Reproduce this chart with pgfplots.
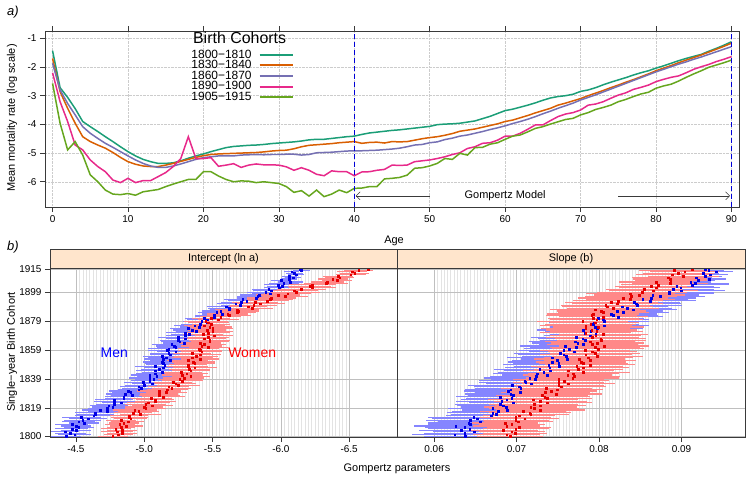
\documentclass[border=0pt]{standalone}
\usepackage{fontspec}
\setmainfont{Liberation Sans}
\usepackage{pgfplots}
\pgfplotsset{compat=1.18}
\usepackage{pgfplotstable}
\usetikzlibrary{arrows.meta}

\definecolor{cA}{HTML}{1B9E77}
\definecolor{cB}{HTML}{D95F02}
\definecolor{cC}{HTML}{7570B3}
\definecolor{cD}{HTML}{E7298A}
\definecolor{cE}{HTML}{66A61E}
\definecolor{stripcol}{HTML}{FFE5CC}
\definecolor{framecol}{HTML}{3A3A3A}
\definecolor{barblue}{HTML}{8585FF}
\definecolor{barred}{HTML}{FF8888}

% year, intercept (men, women), slope (men, women), each with half-width of the bar
\pgfplotstableread{
year ma mae fa fae mb mbe fb fbe
1800 -4.43 0.11 -4.77 0.11 0.0638 0.0050 0.0692 0.0040
1801 -4.49 0.12 -4.81 0.105 0.0625 0.0052 0.0688 0.0041
1802 -4.46 0.11 -4.84 0.11 0.0637 0.0049 0.0698 0.0039
1803 -4.42 0.105 -4.80 0.12 0.0649 0.0050 0.0694 0.0040
1804 -4.50 0.11 -4.84 0.11 0.0633 0.0051 0.0684 0.0042
1805 -4.47 0.12 -4.79 0.11 0.0643 0.0050 0.0699 0.0040
1806 -4.52 0.11 -4.83 0.105 0.0637 0.0048 0.0703 0.0039
1807 -4.50 0.11 -4.87 0.12 0.0626 0.0050 0.0688 0.0041
1808 -4.47 0.12 -4.82 0.11 0.0644 0.0052 0.0694 0.0040
1809 -4.56 0.11 -4.85 0.11 0.0642 0.0050 0.0686 0.0040
1810 -4.52 0.12 -4.88 0.12 0.0656 0.0051 0.0702 0.0042
1811 -4.55 0.135 -4.83 0.11 0.0644 0.0054 0.0699 0.0040
1812 -4.59 0.14 -4.90 0.12 0.0652 0.0055 0.0710 0.0041
1813 -4.54 0.14 -4.89 0.135 0.0648 0.0056 0.0699 0.0043
1814 -4.63 0.135 -4.89 0.14 0.0669 0.0055 0.0703 0.0044
1815 -4.64 0.14 -4.97 0.15 0.0675 0.0054 0.0717 0.0046
1816 -4.64 0.15 -4.92 0.14 0.0671 0.0055 0.0716 0.0050
1817 -4.73 0.14 -4.96 0.15 0.0678 0.0056 0.0708 0.0052
1818 -4.68 0.135 -4.93 0.16 0.0689 0.0055 0.0729 0.0054
1819 -4.73 0.14 -5.01 0.15 0.0671 0.0054 0.0721 0.0055
1820 -4.77 0.15 -5.00 0.14 0.0687 0.0055 0.0717 0.0056
1821 -4.74 0.14 -5.06 0.15 0.0684 0.0056 0.0729 0.0055
1822 -4.78 0.135 -5.01 0.15 0.0680 0.0055 0.0721 0.0054
1823 -4.83 0.14 -5.03 0.16 0.0696 0.0054 0.0737 0.0055
1824 -4.78 0.15 -5.08 0.15 0.0682 0.0055 0.0729 0.0056
1825 -4.78 0.14 -5.08 0.14 0.0688 0.0056 0.0720 0.0055
1826 -4.85 0.135 -5.05 0.15 0.0694 0.0055 0.0737 0.0054
1827 -4.85 0.14 -5.14 0.16 0.0680 0.0054 0.0734 0.0055
1828 -4.91 0.15 -5.11 0.15 0.0696 0.0055 0.0731 0.0056
1829 -4.86 0.14 -5.11 0.14 0.0693 0.0056 0.0748 0.0055
1830 -4.90 0.135 -5.16 0.15 0.0704 0.0055 0.0735 0.0054
1831 -4.88 0.14 -5.11 0.16 0.0690 0.0054 0.0742 0.0055
1832 -4.96 0.15 -5.17 0.15 0.0693 0.0055 0.0749 0.0056
1833 -4.98 0.14 -5.20 0.14 0.0705 0.0056 0.0736 0.0055
1834 -4.96 0.135 -5.18 0.15 0.0703 0.0055 0.0754 0.0054
1835 -5.00 0.14 -5.25 0.16 0.0695 0.0054 0.0751 0.0055
1836 -5.06 0.15 -5.23 0.15 0.0718 0.0055 0.0763 0.0056
1837 -4.99 0.14 -5.21 0.14 0.0711 0.0056 0.0751 0.0055
1838 -5.04 0.135 -5.28 0.15 0.0710 0.0055 0.0758 0.0054
1839 -5.07 0.14 -5.26 0.16 0.0723 0.0054 0.0751 0.0055
1840 -5.04 0.15 -5.29 0.15 0.0716 0.0055 0.0768 0.0056
1841 -5.09 0.14 -5.34 0.14 0.0724 0.0056 0.0770 0.0055
1842 -5.04 0.135 -5.28 0.15 0.0737 0.0055 0.0762 0.0054
1843 -5.08 0.14 -5.31 0.16 0.0725 0.0054 0.0769 0.0055
1844 -5.13 0.15 -5.27 0.15 0.0733 0.0055 0.0781 0.0056
1845 -5.08 0.14 -5.34 0.14 0.0741 0.0056 0.0763 0.0055
1846 -5.11 0.135 -5.33 0.15 0.0728 0.0055 0.0775 0.0054
1847 -5.14 0.14 -5.37 0.16 0.0740 0.0054 0.0781 0.0055
1848 -5.08 0.15 -5.32 0.15 0.0752 0.0055 0.0773 0.0056
1849 -5.15 0.14 -5.32 0.14 0.0739 0.0056 0.0789 0.0055
1850 -5.14 0.135 -5.37 0.15 0.0751 0.0055 0.0781 0.0054
1851 -5.13 0.14 -5.36 0.16 0.0743 0.0054 0.0778 0.0055
1852 -5.19 0.15 -5.32 0.15 0.0749 0.0055 0.0789 0.0056
1853 -5.14 0.14 -5.41 0.14 0.0761 0.0056 0.0776 0.0055
1854 -5.16 0.135 -5.35 0.15 0.0743 0.0055 0.0787 0.0054
1855 -5.13 0.14 -5.38 0.16 0.0760 0.0054 0.0798 0.0055
1856 -5.19 0.15 -5.41 0.15 0.0757 0.0055 0.0784 0.0056
1857 -5.18 0.14 -5.35 0.14 0.0753 0.0056 0.0795 0.0055
1858 -5.23 0.135 -5.42 0.15 0.0770 0.0055 0.0792 0.0054
1859 -5.17 0.14 -5.41 0.16 0.0757 0.0054 0.0783 0.0055
1860 -5.18 0.15 -5.40 0.15 0.0764 0.0055 0.0799 0.0056
1861 -5.23 0.14 -5.47 0.14 0.0772 0.0056 0.0795 0.0055
1862 -5.22 0.135 -5.42 0.15 0.0759 0.0055 0.0806 0.0054
1863 -5.20 0.14 -5.44 0.16 0.0781 0.0054 0.0792 0.0055
1864 -5.29 0.15 -5.41 0.15 0.0774 0.0055 0.0798 0.0056
1865 -5.26 0.14 -5.48 0.14 0.0771 0.0056 0.0789 0.0055
1866 -5.25 0.135 -5.48 0.15 0.0783 0.0055 0.0803 0.0054
1867 -5.30 0.14 -5.44 0.16 0.0780 0.0054 0.0802 0.0055
1868 -5.25 0.15 -5.47 0.15 0.0772 0.0055 0.0792 0.0056
1869 -5.30 0.14 -5.51 0.14 0.0789 0.0056 0.0796 0.0055
1870 -5.33 0.135 -5.43 0.15 0.0796 0.0055 0.0805 0.0054
1871 -5.30 0.14 -5.47 0.16 0.0783 0.0054 0.0784 0.0055
1872 -5.38 0.15 -5.50 0.15 0.0790 0.0055 0.0797 0.0056
1873 -5.35 0.14 -5.46 0.14 0.0781 0.0056 0.0791 0.0055
1874 -5.32 0.135 -5.50 0.15 0.0798 0.0055 0.0784 0.0054
1875 -5.40 0.14 -5.48 0.16 0.0795 0.0054 0.0799 0.0055
1876 -5.37 0.15 -5.44 0.15 0.0806 0.0055 0.0784 0.0056
1877 -5.41 0.14 -5.49 0.14 0.0793 0.0056 0.0790 0.0055
1878 -5.46 0.135 -5.47 0.15 0.0794 0.0055 0.0795 0.0054
1879 -5.42 0.14 -5.45 0.16 0.0806 0.0054 0.0780 0.0055
1880 -5.46 0.15 -5.54 0.15 0.0805 0.0055 0.0797 0.0056
1881 -5.44 0.14 -5.49 0.14 0.0799 0.0056 0.0793 0.0055
1882 -5.51 0.135 -5.56 0.15 0.0823 0.0055 0.0805 0.0054
1883 -5.51 0.14 -5.62 0.16 0.0817 0.0054 0.0791 0.0055
1884 -5.57 0.15 -5.61 0.15 0.0815 0.0055 0.0793 0.0056
1885 -5.53 0.14 -5.68 0.14 0.0829 0.0056 0.0805 0.0055
1886 -5.56 0.135 -5.69 0.15 0.0822 0.0055 0.0803 0.0054
1887 -5.62 0.14 -5.68 0.16 0.0841 0.0054 0.0795 0.0055
1888 -5.62 0.15 -5.79 0.15 0.0834 0.0055 0.0817 0.0056
1889 -5.60 0.14 -5.76 0.14 0.0828 0.0056 0.0810 0.0055
1890 -5.70 0.135 -5.80 0.17 0.0846 0.0055 0.0808 0.0054
1891 -5.67 0.14 -5.85 0.18 0.0845 0.0054 0.0822 0.0055
1892 -5.71 0.15 -5.81 0.17 0.0843 0.0055 0.0815 0.0056
1893 -5.75 0.14 -5.90 0.16 0.0862 0.0056 0.0823 0.0055
1894 -5.72 0.135 -5.92 0.17 0.0853 0.0055 0.0838 0.0054
1895 -5.82 0.14 -5.93 0.18 0.0863 0.0054 0.0829 0.0055
1896 -5.83 0.15 -6.03 0.17 0.0874 0.0055 0.0839 0.0056
1897 -5.84 0.14 -5.98 0.16 0.0865 0.0056 0.0849 0.0055
1898 -5.92 0.135 -6.05 0.17 0.0885 0.0055 0.0838 0.0054
1899 -5.89 0.14 -6.11 0.18 0.0885 0.0054 0.0852 0.0055
1900 -5.93 0.135 -6.10 0.17 0.0900 0.0053 0.0866 0.0054
1901 -5.91 0.12 -6.15 0.18 0.0890 0.0050 0.0855 0.0046
1902 -5.99 0.11 -6.23 0.17 0.0899 0.0048 0.0869 0.0045
1903 -6.01 0.11 -6.21 0.16 0.0894 0.0046 0.0863 0.0044
1904 -5.98 0.105 -6.23 0.17 0.0913 0.0044 0.0872 0.0045
1905 -6.02 0.11 -6.33 0.16 0.0917 0.0040 0.0886 0.0046
1906 -6.07 0.09 -6.34 0.12 0.0911 0.0025 0.0869 0.0045
1907 -6.00 0.07 -6.41 0.11 0.0920 0.0021 0.0887 0.0044
1908 -6.06 0.06 -6.38 0.11 0.0934 0.0020 0.0886 0.0045
1909 -6.09 0.06 -6.43 0.105 0.0918 0.0019 0.0884 0.0044
1910 -6.06 0.055 -6.42 0.11 0.0929 0.0020 0.0902 0.0043
1911 -6.11 0.06 -6.51 0.11 0.0935 0.0021 0.0889 0.0044
1912 -6.10 0.06 -6.54 0.105 0.0926 0.0019 0.0896 0.0043
1913 -6.08 0.055 -6.52 0.11 0.0942 0.0020 0.0904 0.0042
1914 -6.15 0.06 -6.57 0.105 0.0933 0.0019 0.0891 0.0043
1915 -6.14 0.055 -6.64 0.105 0.0929 0.0018 0.0913 0.0042
}\cohorts

\pgfplotsset{
  every axis/.append style={
    scale only axis, anchor=north west,
    axis line style={draw=framecol, line width=0.7pt},
    tick style={draw=framecol, line width=0.6pt},
    tick align=outside, major tick length=5bp, minor tick length=0pt,
    ticklabel style={font=\fontsize{10}{12}\selectfont, text=black},
    /pgf/number format/assume math mode=true,
  },
}

\begin{document}
\begin{tikzpicture}
\path (0bp,0bp) rectangle (750bp,-480bp);

% ---------- panel a ----------
\begin{axis}[
  at={(45bp,-31bp)}, width=694bp, height=176bp,
  xmin=-1, xmax=91, ymin=-6.88, ymax=-0.745,
  xtick={0,10,...,90}, ytick={-6,-5,-4,-3,-2,-1},
  xtick pos=both, xticklabel pos=lower, ytick pos=left,
  grid=major, major grid style={densely dotted, gray!40, line width=0.5pt},
  legend style={at={(0.205,0.912)}, anchor=north west, draw=none, fill=none,
    font=\fontsize{12}{12}\selectfont, row sep=-1.2pt, nodes={inner sep=1pt},
    /tikz/every odd column/.append style={column sep=6bp}},
  legend plot pos=right, legend cell align=left,
  legend image code/.code={\draw[#1, line width=2pt] (0bp,0bp) -- (33bp,0bp);},
]
\addplot[cA, line width=1.5pt] coordinates {
(0,-1.43)(1,-2.72)(2,-3.06)(3,-3.45)(4,-3.90)(5,-4.08)(6,-4.25)(7,-4.43)(8,-4.60)(9,-4.78)(10,-4.95)(11,-5.10)(12,-5.22)(13,-5.30)(14,-5.36)(15,-5.36)(16,-5.34)(17,-5.27)(18,-5.18)(19,-5.10)(20,-5.03)(21,-4.95)(22,-4.88)(23,-4.81)(24,-4.77)(25,-4.75)(26,-4.73)(27,-4.72)(28,-4.70)(29,-4.67)(30,-4.65)(31,-4.63)(32,-4.61)(33,-4.58)(34,-4.54)(35,-4.52)(36,-4.52)(37,-4.49)(38,-4.46)(39,-4.43)(40,-4.41)(41,-4.35)(42,-4.30)(43,-4.27)(44,-4.24)(45,-4.21)(46,-4.19)(47,-4.16)(48,-4.13)(49,-4.10)(50,-4.07)(51,-4.01)(52,-3.99)(53,-3.98)(54,-3.96)(55,-3.92)(56,-3.88)(57,-3.80)(58,-3.72)(59,-3.62)(60,-3.52)(61,-3.47)(62,-3.40)(63,-3.33)(64,-3.25)(65,-3.16)(66,-3.08)(67,-3.03)(68,-3.00)(69,-2.95)(70,-2.85)(71,-2.80)(72,-2.72)(73,-2.62)(74,-2.53)(75,-2.45)(76,-2.37)(77,-2.28)(78,-2.20)(79,-2.13)(80,-2.04)(81,-1.96)(82,-1.87)(83,-1.78)(84,-1.70)(85,-1.63)(86,-1.56)(87,-1.45)(88,-1.35)(89,-1.24)(90,-1.12)
};
\addlegendentry{1800−1810}
\addplot[cB, line width=1.5pt] coordinates {
(0,-1.70)(1,-2.86)(2,-3.44)(3,-3.96)(4,-4.43)(5,-4.60)(6,-4.72)(7,-4.83)(8,-4.98)(9,-5.15)(10,-5.30)(11,-5.39)(12,-5.45)(13,-5.47)(14,-5.47)(15,-5.42)(16,-5.36)(17,-5.29)(18,-5.22)(19,-5.15)(20,-5.09)(21,-5.05)(22,-5.03)(23,-5.02)(24,-5.01)(25,-5.00)(26,-4.99)(27,-4.98)(28,-4.96)(29,-4.93)(30,-4.91)(31,-4.90)(32,-4.85)(33,-4.78)(34,-4.73)(35,-4.71)(36,-4.69)(37,-4.67)(38,-4.64)(39,-4.62)(40,-4.60)(41,-4.66)(42,-4.63)(43,-4.62)(44,-4.65)(45,-4.60)(46,-4.61)(47,-4.60)(48,-4.55)(49,-4.50)(50,-4.46)(51,-4.43)(52,-4.38)(53,-4.32)(54,-4.24)(55,-4.20)(56,-4.16)(57,-4.10)(58,-4.04)(59,-3.98)(60,-3.90)(61,-3.85)(62,-3.77)(63,-3.69)(64,-3.60)(65,-3.52)(66,-3.44)(67,-3.33)(68,-3.26)(69,-3.18)(70,-3.10)(71,-3.00)(72,-2.91)(73,-2.82)(74,-2.72)(75,-2.63)(76,-2.53)(77,-2.44)(78,-2.34)(79,-2.24)(80,-2.13)(81,-2.04)(82,-1.95)(83,-1.85)(84,-1.76)(85,-1.67)(86,-1.58)(87,-1.48)(88,-1.38)(89,-1.28)(90,-1.17)
};
\addlegendentry{1830−1840}
\addplot[cC, line width=1.5pt] coordinates {
(0,-1.87)(1,-2.80)(2,-3.27)(3,-3.67)(4,-4.08)(5,-4.31)(6,-4.49)(7,-4.66)(8,-4.80)(9,-4.95)(10,-5.10)(11,-5.24)(12,-5.36)(13,-5.45)(14,-5.50)(15,-5.50)(16,-5.45)(17,-5.38)(18,-5.30)(19,-5.22)(20,-5.16)(21,-5.13)(22,-5.10)(23,-5.10)(24,-5.10)(25,-5.07)(26,-5.06)(27,-5.05)(28,-5.06)(29,-5.05)(30,-5.05)(31,-5.04)(32,-5.04)(33,-5.07)(34,-5.05)(35,-4.99)(36,-4.98)(37,-4.97)(38,-4.95)(39,-4.93)(40,-4.92)(41,-4.92)(42,-4.91)(43,-4.90)(44,-4.88)(45,-4.86)(46,-4.83)(47,-4.78)(48,-4.72)(49,-4.70)(50,-4.64)(51,-4.61)(52,-4.53)(53,-4.48)(54,-4.41)(55,-4.37)(56,-4.31)(57,-4.25)(58,-4.18)(59,-4.12)(60,-4.05)(61,-3.97)(62,-3.90)(63,-3.82)(64,-3.73)(65,-3.63)(66,-3.54)(67,-3.44)(68,-3.35)(69,-3.26)(70,-3.15)(71,-3.06)(72,-2.97)(73,-2.87)(74,-2.77)(75,-2.67)(76,-2.57)(77,-2.47)(78,-2.37)(79,-2.27)(80,-2.17)(81,-2.08)(82,-1.99)(83,-1.90)(84,-1.82)(85,-1.73)(86,-1.65)(87,-1.56)(88,-1.47)(89,-1.38)(90,-1.29)
};
\addlegendentry{1860−1870}
\addplot[cD, line width=1.5pt] coordinates {
(0,-2.20)(1,-3.21)(2,-3.90)(3,-4.72)(4,-4.89)(5,-5.24)(6,-5.47)(7,-5.65)(8,-5.94)(9,-6.03)(10,-5.88)(11,-6.03)(12,-5.96)(13,-5.96)(14,-5.82)(15,-5.68)(16,-5.47)(17,-5.19)(18,-4.43)(19,-5.19)(20,-5.19)(21,-5.16)(22,-5.46)(23,-5.42)(24,-5.37)(25,-5.50)(26,-5.42)(27,-5.38)(28,-5.41)(29,-5.41)(30,-5.42)(31,-5.48)(32,-5.60)(33,-5.51)(34,-5.60)(35,-5.74)(36,-5.79)(37,-5.62)(38,-5.65)(39,-5.65)(40,-5.79)(41,-5.66)(42,-5.65)(43,-5.60)(44,-5.57)(45,-5.42)(46,-5.43)(47,-5.42)(48,-5.30)(49,-5.27)(50,-5.24)(51,-5.19)(52,-5.13)(53,-5.05)(54,-4.99)(55,-4.84)(56,-4.78)(57,-4.66)(58,-4.64)(59,-4.55)(60,-4.41)(61,-4.41)(62,-4.31)(63,-4.17)(64,-4.02)(65,-4.02)(66,-3.87)(67,-3.73)(68,-3.64)(69,-3.59)(70,-3.50)(71,-3.33)(72,-3.29)(73,-3.21)(74,-3.09)(75,-2.98)(76,-2.90)(77,-2.78)(78,-2.71)(79,-2.63)(80,-2.51)(81,-2.43)(82,-2.36)(83,-2.31)(84,-2.20)(85,-2.08)(86,-1.99)(87,-1.91)(88,-1.81)(89,-1.73)(90,-1.64)
};
\addlegendentry{1890−1900}
\addplot[cE, line width=1.5pt] coordinates {
(0,-2.57)(1,-3.96)(2,-4.89)(3,-4.60)(4,-5.07)(5,-5.76)(6,-6.00)(7,-6.29)(8,-6.43)(9,-6.45)(10,-6.41)(11,-6.47)(12,-6.35)(13,-6.31)(14,-6.27)(15,-6.17)(16,-6.08)(17,-6.00)(18,-5.92)(19,-5.92)(20,-5.65)(21,-5.65)(22,-5.80)(23,-5.92)(24,-6.00)(25,-5.97)(26,-5.98)(27,-6.03)(28,-6.00)(29,-6.03)(30,-6.06)(31,-6.17)(32,-6.37)(33,-6.31)(34,-6.50)(35,-6.29)(36,-6.52)(37,-6.43)(38,-6.29)(39,-6.38)(40,-6.23)(41,-6.22)(42,-6.17)(43,-6.17)(44,-5.90)(45,-5.88)(46,-5.85)(47,-5.77)(48,-5.53)(49,-5.51)(50,-5.45)(51,-5.36)(52,-5.19)(53,-5.22)(54,-5.01)(55,-5.07)(56,-4.81)(57,-4.80)(58,-4.69)(59,-4.64)(60,-4.52)(61,-4.41)(62,-4.37)(63,-4.26)(64,-4.14)(65,-4.08)(66,-3.99)(67,-3.91)(68,-3.83)(69,-3.79)(70,-3.67)(71,-3.59)(72,-3.48)(73,-3.41)(74,-3.33)(75,-3.21)(76,-3.13)(77,-3.03)(78,-2.94)(79,-2.88)(80,-2.74)(81,-2.66)(82,-2.60)(83,-2.49)(84,-2.36)(85,-2.24)(86,-2.13)(87,-2.01)(88,-1.93)(89,-1.85)(90,-1.76)
};
\addlegendentry{1905−1915}
\node[font=\fontsize{16}{16}\selectfont] at (axis cs:24.8,-0.97) {Birth Cohorts};
\draw[blue!85!black, line width=1.3pt, dash pattern=on 5bp off 3bp] (axis cs:40,-6.88) -- (axis cs:40,-0.745);
\draw[blue!85!black, line width=1.3pt, dash pattern=on 5bp off 3bp] (axis cs:90,-6.88) -- (axis cs:90,-0.745);
\draw[framecol, line width=0.5pt, -{Straight Barb[length=4bp,width=8bp]}] (axis cs:50,-6.49) -- (axis cs:40.2,-6.49);
\draw[framecol, line width=0.5pt, -{Straight Barb[length=4bp,width=8bp]}] (axis cs:75,-6.49) -- (axis cs:89.8,-6.49);
\node[font=\fontsize{11}{11}\selectfont] at (axis cs:60,-6.49) {Gompertz Model};
\end{axis}

% ---------- panel b, intercept ----------
\begin{axis}[
  at={(50bp,-268bp)}, width=347bp, height=169bp,
  x dir=reverse, xmin=-6.85, xmax=-4.31, ymin=1799.4, ymax=1915.6,
  xtick={-6.5,-6,-5.5,-5,-4.5}, ytick={1800,1819,1839,1859,1879,1899,1915},
  xtick pos=left, ytick pos=left,
  xticklabel style={/pgf/number format/.cd, fixed, fixed zerofill, precision=1},
  yticklabel style={/pgf/number format/1000 sep={}},
  minor x tick num=19,
  grid=both, major grid style={gray!50, line width=0.6pt},
  minor grid style={gray!22, line width=0.35pt},
]
\addplot[draw=none, mark=none, error bars/.cd, x dir=both, x explicit, error mark=none,
  error bar style={draw=barblue, line width=1.15pt}]
  table[x=ma, y=year, x error=mae] {\cohorts};
\addplot[draw=none, mark=none, error bars/.cd, x dir=both, x explicit, error mark=none,
  error bar style={draw=barred, line width=1.15pt}]
  table[x=fa, y=year, x error=fae] {\cohorts};
\addplot[only marks, mark=square*, mark size=0.85pt, blue!90!black] table[x=ma, y=year] {\cohorts};
\addplot[only marks, mark=square*, mark size=0.85pt, red!90!black] table[x=fa, y=year] {\cohorts};
\node[blue, font=\fontsize{14}{14}\selectfont] at (axis cs:-4.78,1857.5) {Men};
\node[red, font=\fontsize{14}{14}\selectfont] at (axis cs:-5.79,1857.5) {Women};
\end{axis}

% ---------- panel b, slope ----------
\begin{axis}[
  at={(397bp,-268bp)}, width=348bp, height=169bp,
  xmin=0.0555, xmax=0.0977, ymin=1799.4, ymax=1915.6,
  xtick={0.06,0.07,0.08,0.09}, ytick={1800,1819,1839,1859,1879,1899,1915},
  yticklabels={}, ytick style={draw=none},
  xtick pos=left, scaled x ticks=false,
  xticklabel style={/pgf/number format/.cd, fixed, fixed zerofill, precision=2},
  minor x tick num=24,
  grid=both, major grid style={gray!50, line width=0.6pt},
  minor grid style={gray!22, line width=0.35pt},
]
\addplot[draw=none, mark=none, error bars/.cd, x dir=both, x explicit, error mark=none,
  error bar style={draw=barblue, line width=1.15pt}]
  table[x=mb, y=year, x error=mbe] {\cohorts};
\addplot[draw=none, mark=none, error bars/.cd, x dir=both, x explicit, error mark=none,
  error bar style={draw=barred, line width=1.15pt}]
  table[x=fb, y=year, x error=fbe] {\cohorts};
\addplot[only marks, mark=square*, mark size=0.85pt, blue!90!black] table[x=mb, y=year] {\cohorts};
\addplot[only marks, mark=square*, mark size=0.85pt, red!90!black] table[x=fb, y=year] {\cohorts};
\end{axis}

% strips and labels
\draw[fill=stripcol, draw=framecol, line width=0.7pt] (50bp,-249bp) rectangle (397bp,-268bp);
\draw[fill=stripcol, draw=framecol, line width=0.7pt] (397bp,-249bp) rectangle (745bp,-268bp);
\node[font=\fontsize{11}{11}\selectfont] at (223.5bp,-258.5bp) {Intercept (ln a)};
\node[font=\fontsize{11}{11}\selectfont] at (571bp,-258.5bp) {Slope (b)};

\node[font=\itshape\fontsize{13}{13}\selectfont] at (13bp,-12bp) {a)};
\node[font=\itshape\fontsize{13}{13}\selectfont] at (13bp,-247bp) {b)};
\node[font=\fontsize{11}{11}\selectfont] at (394bp,-241bp) {Age};
\node[font=\fontsize{11}{11}\selectfont, rotate=90] at (12bp,-118bp) {Mean mortality rate (log scale)};
\node[font=\fontsize{11}{11}\selectfont, rotate=90] at (12bp,-352bp) {Single−year Birth Cohort};
\node[font=\fontsize{11}{11}\selectfont] at (397bp,-469bp) {Gompertz parameters};
\end{tikzpicture}
\end{document}
